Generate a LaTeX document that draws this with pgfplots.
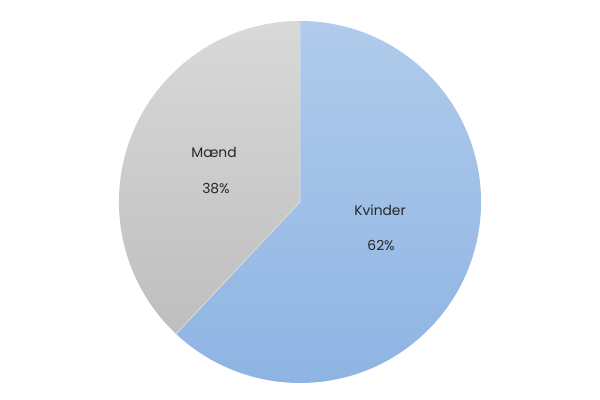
\documentclass[border=0pt]{standalone}
\usepackage{pgfplots}
\usepackage{pgfplotstable}
\pgfplotsset{compat=1.18}
\usepackage{fontspec}
\setmainfont{Poppins}

\definecolor{blueTop}{HTML}{B0CBEB}
\definecolor{blueBot}{HTML}{8EB4E3}
\definecolor{grayTop}{HTML}{D9D9D9}
\definecolor{grayBot}{HTML}{BEBEBE}
\definecolor{txt}{HTML}{262626}

\pgfplotstableread{
label share
Kvinder 62
Maend 38
}\piedata

\begin{document}
\begin{tikzpicture}
\pgfplotstablegetelem{0}{share}\of\piedata \let\kvinder\pgfplotsretval
\pgfplotstablegetelem{1}{share}\of\piedata \let\maend\pgfplotsretval
\pgfmathsetmacro{\cut}{90-3.6*\kvinder}
\begin{axis}[
  width=6in, height=4in, scale only axis,
  xmin=-1.657, xmax=1.657,
  ymin=-1.094, ymax=1.116,
  hide axis, clip=false,
]
\path (rel axis cs:0,0) rectangle (rel axis cs:1,1);
% Kvinder slice
\shade[top color=blueTop, bottom color=blueBot]
  (axis cs:0,0) -- (axis cs:0,1) arc[start angle=90, end angle=\cut, radius=1] -- cycle;
% Maend slice
\shade[top color=grayTop, bottom color=grayBot]
  (axis cs:0,0) -- (axis cs:0,1) arc[start angle=90, end angle=\cut+360, radius=1] -- cycle;
\draw[white!75!gray, line width=0.5pt] (axis cs:0,1) -- (axis cs:0,0) -- (axis cs:{cos(\cut)},{sin(\cut)});
\begin{scope}[font=\fontsize{10}{12}\selectfont, text=txt]
\node at (axis cs:0.442,-0.044) {Kvinder};
\node at (axis cs:0.448,-0.238) {\kvinder\%};
\node at (axis cs:-0.475,0.271) {Mænd};
\node at (axis cs:-0.464,0.072) {\maend\%};
\end{scope}
\end{axis}
\end{tikzpicture}
\end{document}
